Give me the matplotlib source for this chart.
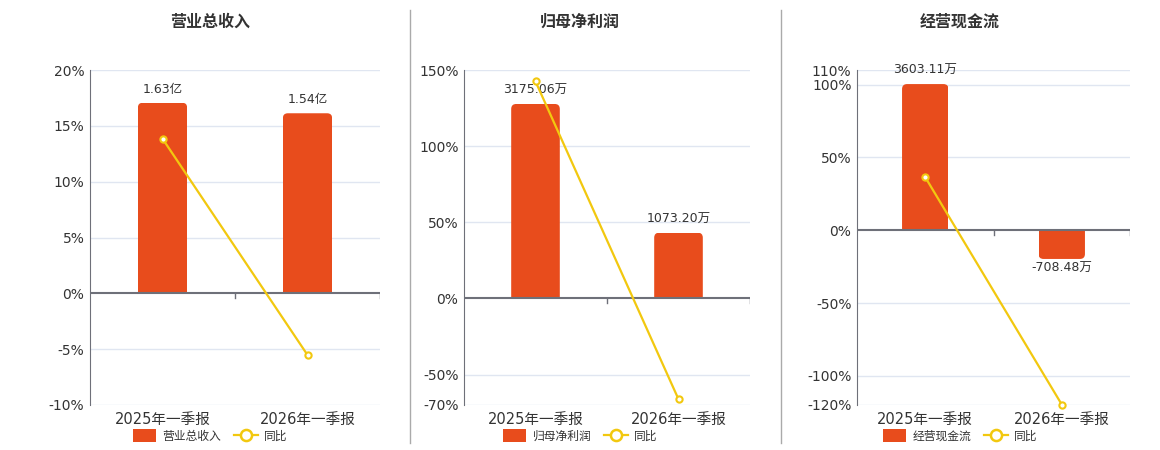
import matplotlib
matplotlib.use("Agg")
import matplotlib.pyplot as plt
import matplotlib.patches as mpatches
from matplotlib.lines import Line2D
import numpy as np

plt.rcParams['font.family'] = ['DejaVu Sans', 'Noto Sans CJK SC']

# ---------------- data ----------------
categories = ["2025年一季报", "2026年一季报"]

titles = ["营业总收入", "归母净利润", "经营现金流"]

revenue_values = [1.63, 1.54]            # 亿
revenue_labels = ["1.63亿", "1.54亿"]
revenue_yoy = [13.85, -5.52]             # %

profit_values = [3175.06, 1073.20]       # 万
profit_labels = ["3175.06万", "1073.20万"]
profit_yoy = [142.5, -66.20]             # %

cash_values = [3603.11, -708.48]         # 万
cash_labels = ["3603.11万", "-708.48万"]
cash_yoy = [36.4, -119.66]               # %

pct_ticks = [
    [20, 15, 10, 5, 0, -5, -10],
    [150, 100, 50, 0, -50, -70],
    [110, 100, 50, 0, -50, -100, -120],
]
bar_axis_max = [1.91, 3730.0, 3950.0]

series_values = [revenue_values, profit_values, cash_values]
series_labels = [revenue_labels, profit_labels, cash_labels]
series_yoy = [revenue_yoy, profit_yoy, cash_yoy]

# ---------------- style ----------------
BAR = "#e84c1c"
LINE = "#f2c80f"
GRID = "#e0e6f1"
AXIS = "#6e7079"
TXT = "#333333"

W, H = 1160, 450
fig = plt.figure(figsize=(W / 100, H / 100), dpi=100)

boxes = [(90, 380), (464, 750), (857, 1130)]
top_px, bot_px = 70, 405
centers = [210, 580, 960]

for i in range(3):
    l, r = boxes[i]
    rect = [l / W, 1 - bot_px / H, (r - l) / W, (bot_px - top_px) / H]
    ax = fig.add_axes(rect)
    axb = ax.twinx()
    axl = ax.twinx()

    ticks = pct_ticks[i]
    hi, lo = max(ticks), min(ticks)
    for a in (ax, axl):
        a.set_ylim(lo, hi)
    ax.set_xlim(-0.5, 1.5)
    M = bar_axis_max[i]
    axb.set_ylim(-M * (-lo) / hi, M)

    for t in ticks:
        if t != 0:
            ax.axhline(t, color=GRID, lw=1, zorder=0)
    ax.set_yticks(ticks)
    ax.set_yticklabels([f"{t}%" for t in ticks], color=TXT, fontsize=10)
    ax.tick_params(axis='y', length=0, pad=4)
    ax.set_xticks(range(len(categories)))
    ax.set_xticklabels(categories, color=TXT, fontsize=10.5)
    ax.tick_params(axis='x', length=0, pad=5)
    for s in ("top", "right", "bottom"):
        ax.spines[s].set_visible(False)
    ax.spines["left"].set_color(AXIS)

    for a in (axb, axl):
        a.set_yticks([])
        for s in a.spines.values():
            s.set_visible(False)
        a.patch.set_visible(False)

    # bars, clipped to a rounded outline at the outer end
    vals = series_values[i]
    width = 0.34
    px_w = r - l
    px_h = bot_px - top_px
    xu = 2.0 / px_w
    yu = (axb.get_ylim()[1] - axb.get_ylim()[0]) / px_h
    rad_px = 5
    bars = axb.bar(range(len(vals)), vals, width=width, color=BAR,
                   linewidth=0, zorder=2)
    for b, v in zip(bars, vals):
        x0, y0 = b.get_x(), b.get_y()
        bw, bh = b.get_width(), b.get_height()
        ext = 2 * rad_px * yu
        if bh >= 0:
            yb, hh = y0 - ext, bh + ext
        else:
            yb, hh = y0 + bh, -bh + ext
        fp = mpatches.FancyBboxPatch(
            (x0, yb), bw, hh,
            boxstyle=f"round,pad=0,rounding_size={rad_px * xu}",
            mutation_aspect=yu / xu, transform=axb.transData)
        b.set_clip_path(fp)

    for k, (v, lab) in enumerate(zip(vals, series_labels[i])):
        if v >= 0:
            axb.annotate(lab, (k, v), xytext=(0, 5), textcoords="offset points",
                         ha="center", va="bottom", fontsize=9, color=TXT, zorder=5)
        else:
            axb.annotate(lab, (k, v), xytext=(0, -2), textcoords="offset points",
                         ha="center", va="top", fontsize=9, color=TXT, zorder=5)

    axl.axhline(0, color=AXIS, lw=1.5, zorder=3)
    d = (hi - lo) * 5 / px_h
    for xb in (0.5, 1.5):
        axl.plot([xb, xb], [0, -d], color=AXIS, lw=1, zorder=3)

    axl.plot(range(len(vals)), series_yoy[i], color=LINE, lw=1.6, marker="o",
             markersize=4.5, markerfacecolor="white", markeredgecolor=LINE,
             markeredgewidth=1.5, zorder=4, clip_on=False)
    ax.set_xlim(-0.5, 1.5)

    fig.text(centers[i] / W, 1 - 22 / H, titles[i], ha="center", va="center",
             fontsize=11.5, fontweight="bold", color=TXT)

    handles = [
        mpatches.Patch(facecolor=BAR, edgecolor="none", label=titles[i]),
        Line2D([0], [0], color=LINE, lw=1.6, marker="o", markersize=8,
               markerfacecolor="white", markeredgecolor=LINE, markeredgewidth=1.8,
               label="同比"),
    ]
    fig.legend(handles=handles, loc="center", ncol=2, frameon=False,
               bbox_to_anchor=(centers[i] / W, 1 - 436 / H), fontsize=8.5,
               handlelength=2.0, handleheight=1.2, handletextpad=0.5,
               columnspacing=1.1, labelcolor=TXT, borderpad=0)

for xs in (410, 781):
    fig.add_artist(Line2D([xs / W, xs / W], [1 - 443 / H, 1 - 10 / H],
                          color="#aaaaaa", lw=1))

fig.savefig("out.png", dpi=100, facecolor="white")
